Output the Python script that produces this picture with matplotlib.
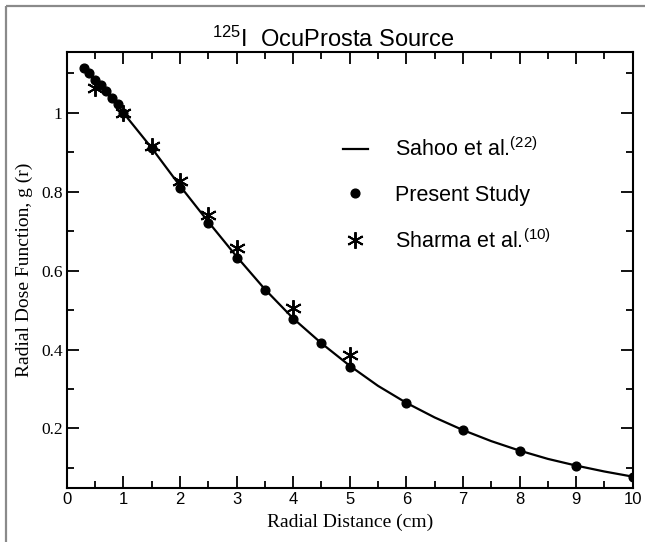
import matplotlib
matplotlib.use('Agg')
import matplotlib.pyplot as plt
from matplotlib.lines import Line2D
from matplotlib.ticker import MultipleLocator, FuncFormatter

plt.rcParams['mathtext.fontset'] = 'custom'
plt.rcParams['mathtext.rm'] = 'Liberation Sans'
plt.rcParams['mathtext.it'] = 'Liberation Sans:italic'

# data
r_sahoo = [0.3, 0.4, 0.5, 0.6, 0.7, 0.8, 0.9, 1.0, 1.5, 2.0, 2.5, 3.0, 3.5, 4.0,
           4.5, 5.0, 5.5, 6.0, 6.5, 7.0, 7.5, 8.0, 8.5, 9.0, 9.5, 10.0]
g_sahoo = [1.114, 1.099, 1.084, 1.069, 1.054, 1.037, 1.019, 1.000, 0.911, 0.815,
           0.724, 0.636, 0.553, 0.479, 0.416, 0.359, 0.308, 0.265, 0.228, 0.196,
           0.168, 0.144, 0.123, 0.106, 0.091, 0.078]

r_present = [0.3, 0.4, 0.5, 0.6, 0.7, 0.8, 0.9, 1.0, 1.5, 2.0, 2.5, 3.0, 3.5,
             4.0, 4.5, 5.0, 6.0, 7.0, 8.0, 9.0, 10.0]
g_present = [1.114, 1.100, 1.083, 1.070, 1.055, 1.038, 1.021, 1.000, 0.910, 0.810,
             0.721, 0.633, 0.551, 0.477, 0.417, 0.357, 0.264, 0.195, 0.143, 0.106,
             0.077]

r_sharma = [0.5, 1.0, 1.5, 2.0, 2.5, 3.0, 4.0, 5.0]
g_sharma = [1.062, 1.000, 0.916, 0.827, 0.741, 0.657, 0.506, 0.385]

labels = ['Sahoo et al.$^{(22)}$', 'Present Study', 'Sharma et al.$^{(10)}$']

fig = plt.figure(figsize=(6.45, 5.42), dpi=100)
ax = fig.add_axes([0.1034, 0.1002, 0.8776, 0.8039])

# grey frame on top / left edge of the picture
fig.add_artist(Line2D([6 / 645, 1], [1 - 6 / 542, 1 - 6 / 542], color='#8a8a8a',
                      lw=1.6, solid_capstyle='butt'))
fig.add_artist(Line2D([6 / 645, 6 / 645], [0, 1 - 6 / 542], color='#8a8a8a',
                      lw=1.6, solid_capstyle='butt'))

ax.plot(r_sahoo, g_sahoo, color='black', lw=1.6, label=labels[0])
ax.plot(r_present, g_present, ls='none', marker='o', ms=6.3, color='black',
        label=labels[1])
ax.plot(r_sharma, g_sharma, ls='none', marker=(6, 2, 0), ms=12, mew=1.4,
        color='black', label=labels[2])

ax.set_xlim(0, 10)
ax.set_ylim(0.05, 1.154)
ax.xaxis.set_major_locator(MultipleLocator(1))
ax.xaxis.set_minor_locator(MultipleLocator(0.5))
ax.yaxis.set_major_locator(MultipleLocator(0.2))
ax.yaxis.set_minor_locator(MultipleLocator(0.1))
ax.yaxis.set_major_formatter(FuncFormatter(lambda v, p: '%g' % round(v, 2)))

ax.tick_params(which='both', direction='in', top=True, right=True, width=1.3)
ax.tick_params(which='major', length=8.5)
ax.tick_params(which='minor', length=5)
ax.tick_params(axis='x', pad=3)
ax.tick_params(axis='y', pad=3)
for t in ax.get_xticklabels():
    t.set_fontfamily('Liberation Sans')
    t.set_fontsize(12)
for t in ax.get_yticklabels():
    t.set_fontfamily('Liberation Serif')
    t.set_fontsize(12.5)
for s in ax.spines.values():
    s.set_linewidth(1.5)

ax.set_xlabel('Radial Distance (cm)', family='Liberation Serif', fontsize=14, labelpad=5)
ax.set_ylabel('Radial Dose Function, g (r)', family='Liberation Serif', fontsize=14,
              labelpad=6)
ax.set_title('$^{125}$I  OcuProsta Source', family='Liberation Sans', fontsize=17,
             x=0.47, pad=4)

leg = ax.legend(loc='upper left', bbox_to_anchor=(0.488, 0.803), frameon=False,
                prop={'family': 'Liberation Sans', 'size': 15.5}, numpoints=1,
                handlelength=1.15, handletextpad=1.25, labelspacing=1.08,
                borderpad=0, borderaxespad=0)

fig.savefig('out.png', dpi=100)
